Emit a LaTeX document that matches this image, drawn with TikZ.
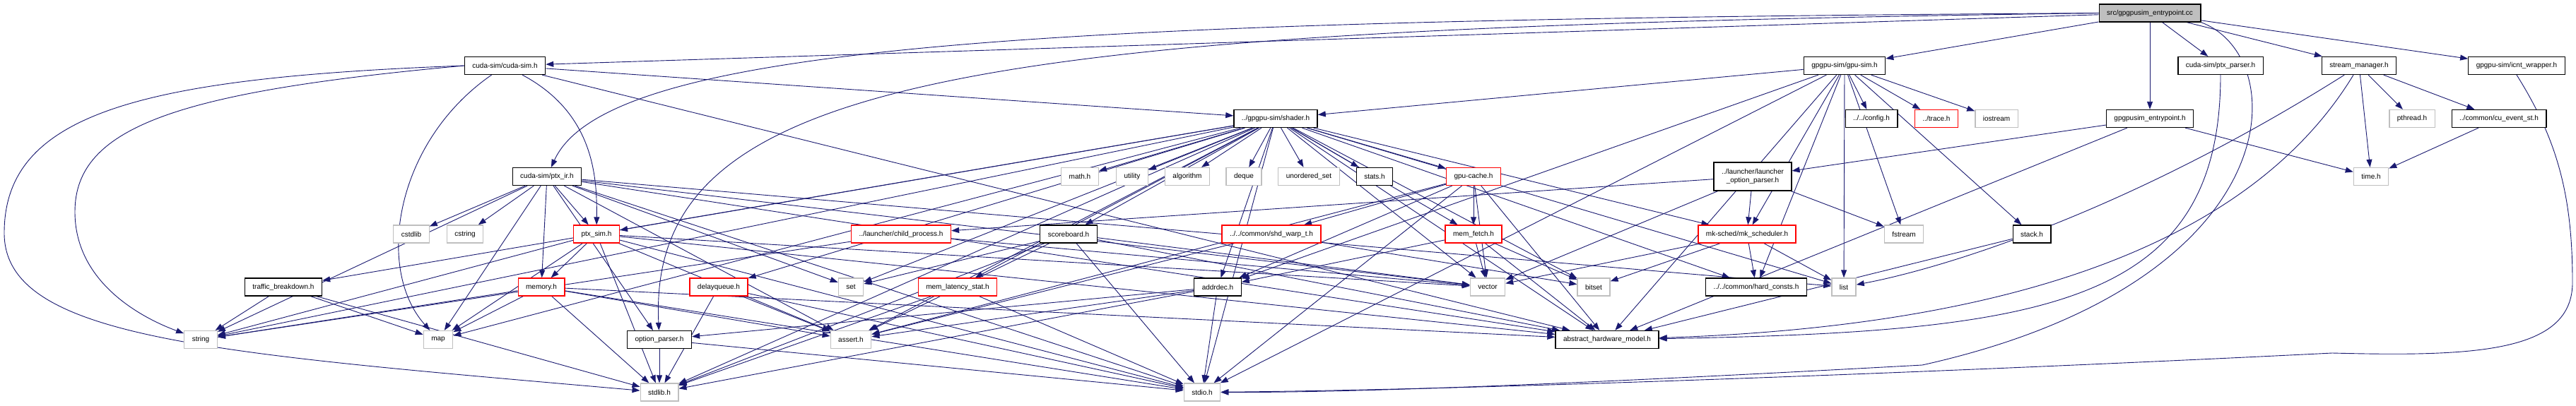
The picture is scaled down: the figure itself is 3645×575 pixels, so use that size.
\documentclass[tikz,border=0pt]{standalone}
\usepackage{fontspec}
\setmainfont{Liberation Sans}
\usepackage{tikz}
\usetikzlibrary{arrows.meta,backgrounds}
\definecolor{dnavy}{HTML}{191970}
\definecolor{dgrey}{HTML}{BFBFBF}
\definecolor{dred}{HTML}{FF0000}
\tikzset{
  hdr/.style={draw=black,fill=white,line width=1.3pt,minimum height=25pt,inner xsep=11pt,inner ysep=0pt,font=\fontsize{10}{12}\selectfont},
  sys/.style={hdr,draw=dgrey},
  bad/.style={hdr,draw=dred},
  root/.style={hdr,fill=dgrey},
  dep/.style={-{Triangle[length=11pt,width=8pt]},line width=0.9pt,draw=dnavy},
}
\begin{document}
\begin{tikzpicture}[x=1pt,y=-1pt]
  \useasboundingbox (0,0) rectangle (3645,575);
  % rank 1 and 2
  \node[root] (entry) at (3042,18.5) {src/gpgpusim\_entrypoint.cc};
  \node[hdr] (cudasim) at (714.5,93) {cuda-sim/cuda-sim.h};
  \node[hdr] (gpusim) at (2610,93) {gpgpu-sim/gpu-sim.h};
  \node[hdr] (ptxparser) at (3142,93) {cuda-sim/ptx\_parser.h};
  \node[hdr] (streammgr) at (3338,93) {stream\_manager.h};
  \node[hdr] (icnt) at (3561,93) {gpgpu-sim/icnt\_wrapper.h};
  % rank 3
  \node[hdr] (shader) at (1805,168) {../gpgpu-sim/shader.h};
  \node[hdr] (config) at (2648,168) {../../config.h};
  \node[bad] (trace) at (2740,168) {../trace.h};
  \node[sys] (iostream) at (2825,168) {iostream};
  \node[hdr] (entryh) at (3042,168) {gpgpusim\_entrypoint.h};
  \node[sys] (pthread) at (3413,168) {pthread.h};
  \node[hdr] (cuevent) at (3536,168) {../common/cu\_event\_st.h};
  % rank 4
  \node[hdr] (ptxir) at (774,250) {cuda-sim/ptx\_ir.h};
  \node[sys] (math) at (1528,250) {math.h};
  \node[sys] (utility) at (1602,250) {utility};
  \node[sys] (algorithm) at (1680,250) {algorithm};
  \node[sys] (deque) at (1760,250) {deque};
  \node[sys] (unordset) at (1852,250) {unordered\_set};
  \node[hdr] (stats) at (1945,250) {stats.h};
  \node[bad] (gpucache) at (2085,250) {gpu-cache.h};
  \node[hdr,align=center,minimum height=40pt] (launcher) at (2480,250) {../launcher/launcher\\\_option\_parser.h};
  \node[sys] (time) at (3355,250) {time.h};
  % rank 5
  \node[sys] (cstdlib) at (582,331.5) {cstdlib};
  \node[sys] (cstring) at (658,331.5) {cstring};
  \node[bad] (ptxsim) at (844,331.5) {ptx\_sim.h};
  \node[bad] (child) at (1275,331.5) {../launcher/child\_process.h};
  \node[hdr] (scoreboard) at (1512,331.5) {scoreboard.h};
  \node[bad] (shdwarp) at (1799,331.5) {../../common/shd\_warp\_t.h};
  \node[bad] (memfetch) at (2085,331.5) {mem\_fetch.h};
  \node[bad] (mksched) at (2472,331.5) {mk-sched/mk\_scheduler.h};
  \node[sys] (fstream) at (2694,331.5) {fstream};
  \node[hdr] (stack) at (2875,331.5) {stack.h};
  % rank 6
  \node[hdr] (traffic) at (401,406.5) {traffic\_breakdown.h};
  \node[bad] (memory) at (766,406.5) {memory.h};
  \node[bad] (delayqueue) at (1017,406.5) {delayqueue.h};
  \node[sys] (set) at (1204,406.5) {set};
  \node[bad] (memlat) at (1355,406.5) {mem\_latency\_stat.h};
  \node[hdr] (addrdec) at (1723,406.5) {addrdec.h};
  \node[sys] (vector) at (2105,406.5) {vector};
  \node[sys] (bitset) at (2255,406.5) {bitset};
  \node[hdr] (hard) at (2485,406.5) {../../common/hard\_consts.h};
  \node[sys] (list) at (2609,406.5) {list};
  % rank 7 and 8
  \node[sys] (string) at (284,481) {string};
  \node[sys] (map) at (620,481) {map};
  \node[hdr] (optparser) at (933,481) {option\_parser.h};
  \node[sys] (assert) at (1204,481) {assert.h};
  \node[hdr] (ahm) at (2274,481) {abstract\_hardware\_model.h};
  \node[sys] (stdlib) at (933,555.5) {stdlib.h};
  \node[sys] (stdio) at (1701,555.5) {stdio.h};
  \begin{scope}[on background layer]
  \draw[dep] (entry)--(gpusim); \draw[dep] (entry)--(cudasim); \draw[dep] (entry)--(entryh); \draw[dep] (entry)--(ptxparser); \draw[dep] (entry)--(streammgr); \draw[dep] (entry)--(icnt);
  \draw[dep] (entry.west) .. controls (1500,28) and (860,60) .. (ptxir);
  \draw[dep] (entry.west) .. controls (1400,40) and (915,100) .. (optparser);
  \draw[dep] (entry.south east) .. controls (3245,80) and (3245,400) .. (2720,517) .. controls (2300,540) and (1950,556) .. (stdio);
  \draw[dep] (cudasim)--(shader); \draw[dep] (cudasim)--(ahm);
  \draw[dep] (cudasim) .. controls (840,160) and (845,250) .. (ptxsim);
  \draw[dep] (cudasim) .. controls (560,200) and (530,380) .. (map);
  \draw[dep] (cudasim.west) .. controls (250,130) and (106,180) .. (106,300) .. controls (106,400) and (200,450) .. (string);
  \draw[dep] (cudasim.west) .. controls (200,110) and (6,160) .. (6,330) .. controls (6,480) and (300,500) .. (stdlib);
  \draw[dep] (gpusim)--(shader); \draw[dep] (gpusim)--(config); \draw[dep] (gpusim)--(trace); \draw[dep] (gpusim)--(iostream); \draw[dep] (gpusim)--(mksched);
  \draw[dep] (gpusim)--(fstream); \draw[dep] (gpusim)--(hard); \draw[dep] (gpusim)--(list); \draw[dep] (gpusim)--(stack); \draw[dep] (gpusim)--(addrdec);
  \draw[dep] (gpusim)--(ahm); \draw[dep] (gpusim)--(stdio);
  \draw[dep] (ptxparser.south) .. controls (3142,430) and (2900,470) .. (ahm);
  \draw[dep] (streammgr)--(pthread); \draw[dep] (streammgr)--(cuevent); \draw[dep] (streammgr)--(time);
  \draw[dep] (streammgr) .. controls (3010,300) and (2750,380) .. (list);
  \draw[dep] (streammgr) .. controls (3200,320) and (2900,460) .. (ahm);
  \draw[dep] (icnt.south) .. controls (3620,200) and (3640,280) .. (3640,400) .. controls (3640,500) and (3500,505) .. (3300,500) .. controls (2800,525) and (2100,552) .. (stdio);
  \draw[dep] (shader)--(math); \draw[dep] (shader)--(utility); \draw[dep] (shader)--(algorithm); \draw[dep] (shader)--(deque); \draw[dep] (shader)--(unordset);
  \draw[dep] (shader)--(stats); \draw[dep] (shader)--(gpucache); \draw[dep] (shader)--(scoreboard); \draw[dep] (shader)--(delayqueue); \draw[dep] (shader)--(memlat);
  \draw[dep] (shader)--(addrdec); \draw[dep] (shader)--(traffic); \draw[dep] (shader)--(ptxsim); \draw[dep] (shader)--(memfetch); \draw[dep] (shader)--(mksched);
  \draw[dep] (shader)--(hard); \draw[dep] (shader)--(vector); \draw[dep] (shader)--(bitset); \draw[dep] (shader)--(list); \draw[dep] (shader)--(set);
  \draw[dep] (shader)--(map); \draw[dep] (shader)--(string); \draw[dep] (shader)--(assert); \draw[dep] (shader)--(stdio); \draw[dep] (shader)--(stdlib);
  \draw[dep] (shader)--(ahm);
  \draw[dep] (entryh)--(launcher); \draw[dep] (entryh)--(time); \draw[dep] (entryh)--(ahm); \draw[dep] (cuevent)--(time);
  \draw[dep] (ptxir)--(cstdlib); \draw[dep] (ptxir)--(cstring); \draw[dep] (ptxir)--(ptxsim); \draw[dep] (ptxir)--(memory); \draw[dep] (ptxir)--(optparser);
  \draw[dep] (ptxir)--(map); \draw[dep] (ptxir)--(string); \draw[dep] (ptxir)--(set); \draw[dep] (ptxir)--(assert); \draw[dep] (ptxir)--(list);
  \draw[dep] (ptxir)--(vector); \draw[dep] (ptxir)--(ahm); \draw[dep] (ptxir)--(stdio);
  \draw[dep] (gpucache)--(shdwarp); \draw[dep] (gpucache)--(memfetch); \draw[dep] (gpucache)--(addrdec); \draw[dep] (gpucache)--(vector); \draw[dep] (gpucache)--(assert);
  \draw[dep] (gpucache)--(stdio); \draw[dep] (gpucache)--(ahm);
  \draw[dep] (launcher)--(child); \draw[dep] (launcher)--(mksched); \draw[dep] (launcher)--(fstream); \draw[dep] (launcher)--(vector);
  \draw[dep] (ptxsim)--(memory); \draw[dep] (ptxsim)--(map); \draw[dep] (ptxsim)--(string); \draw[dep] (ptxsim)--(stdlib); \draw[dep] (ptxsim)--(assert);
  \draw[dep] (ptxsim)--(ahm); \draw[dep] (ptxsim)--(vector); \draw[dep] (ptxsim)--(stdio);
  \draw[dep] (child)--(string); \draw[dep] (child)--(vector);
  \draw[dep] (scoreboard)--(set); \draw[dep] (scoreboard)--(assert); \draw[dep] (scoreboard)--(stdio); \draw[dep] (scoreboard)--(stdlib); \draw[dep] (scoreboard)--(vector);
  \draw[dep] (scoreboard)--(ahm);
  \draw[dep] (shdwarp)--(assert); \draw[dep] (shdwarp)--(bitset);
  \draw[dep] (memfetch)--(addrdec); \draw[dep] (memfetch)--(vector); \draw[dep] (memfetch)--(bitset); \draw[dep] (memfetch)--(ahm);
  \draw[dep] (mksched)--(vector); \draw[dep] (mksched)--(bitset); \draw[dep] (mksched)--(hard); \draw[dep] (mksched)--(list);
  \draw[dep] (stack)--(ahm);
  \draw[dep] (traffic)--(string); \draw[dep] (traffic)--(map); \draw[dep] (traffic)--(stdlib);
  \draw[dep] (memory)--(string); \draw[dep] (memory)--(map); \draw[dep] (memory)--(assert); \draw[dep] (memory)--(stdlib); \draw[dep] (memory)--(stdio);
  \draw[dep] (memory)--(ahm);
  \draw[dep] (delayqueue)--(assert); \draw[dep] (delayqueue)--(stdlib); \draw[dep] (delayqueue)--(stdio);
  \draw[dep] (memlat)--(stdio); \draw[dep] (memlat)--(stdlib);
  \draw[dep] (addrdec)--(optparser); \draw[dep] (addrdec)--(assert); \draw[dep] (addrdec)--(stdio); \draw[dep] (addrdec)--(stdlib);
  \draw[dep] (optparser)--(stdlib); \draw[dep] (optparser)--(stdio);
  \end{scope}
\end{tikzpicture}
\end{document}
